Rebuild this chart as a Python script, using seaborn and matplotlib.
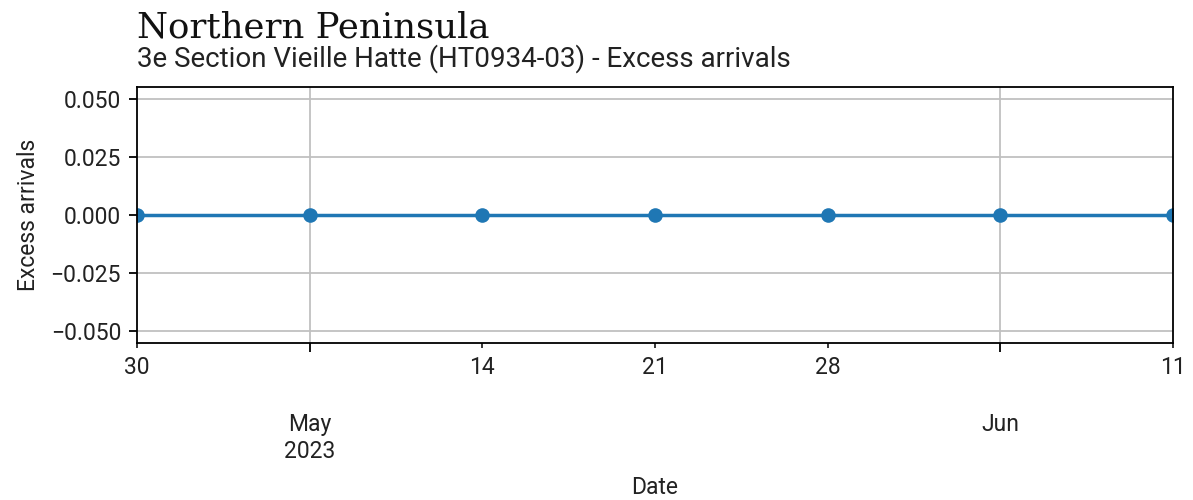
import pandas as pd
import matplotlib
matplotlib.use("Agg")
import matplotlib.pyplot as plt
import matplotlib.dates as mdates
import seaborn as sns

# weekly data (W-SUN)
dates = ["2023-04-30", "2023-05-07", "2023-05-14", "2023-05-21",
         "2023-05-28", "2023-06-04", "2023-06-11"]
excess_arrivals = [0, 0, 0, 0, 0, 0, 0]

major_dates = ["2023-05-07", "2023-06-04"]
major_labels = ["\n\nMay\n2023", "\n\nJun"]
minor_dates = ["2023-04-30", "2023-05-14", "2023-05-21", "2023-05-28", "2023-06-11"]
minor_labels = ["30", "14", "21", "28", "11"]

df = pd.DataFrame({"Date": pd.to_datetime(dates), "Excess arrivals": excess_arrivals})

sns.set_style("white")
plt.rcParams["font.family"] = ["Roboto", "DejaVu Sans"]

fig, ax = plt.subplots(figsize=(11.93, 5), dpi=100)
fig.subplots_adjust(left=0.115, right=0.983, top=0.826, bottom=0.314)

sns.lineplot(data=df, x="Date", y="Excess arrivals", ax=ax, color="#1f77b4",
             marker="o", markersize=10.5, markeredgewidth=0, linewidth=2.5)

ax.set_xlim(df["Date"].min(), df["Date"].max())
ax.set_ylim(-0.055, 0.055)
ax.set_yticks([-0.05, -0.025, 0, 0.025, 0.05])
ax.set_yticklabels(["\u22120.050", "\u22120.025", "0.000", "0.025", "0.050"])

ax.set_xticks(mdates.date2num(pd.to_datetime(major_dates)))
ax.set_xticklabels(major_labels)
ax.set_xticks(mdates.date2num(pd.to_datetime(minor_dates)), minor=True)
ax.set_xticklabels(minor_labels, minor=True)

ax.tick_params(axis="both", which="both", labelsize=16.5, color="black",
               labelcolor="#222222", direction="out", pad=5.8)
ax.tick_params(axis="x", which="major", length=6.5, width=1.3, bottom=True)
ax.tick_params(axis="x", which="minor", length=3.3, width=1.1, bottom=True)
ax.tick_params(axis="y", length=5.8, width=1.3, left=True)

ax.grid(True, which="major", color="#c0c0c0", linewidth=1.3)
ax.set_axisbelow(True)
for s in ax.spines.values():
    s.set_color("black")
    s.set_linewidth(1.3)

ax.set_xlabel("Date", fontsize=16.5, color="#222222")
ax.set_ylabel("Excess arrivals", fontsize=16.5, color="#222222")
ax.xaxis.set_label_coords(0.5, -0.52)
ax.yaxis.set_label_coords(-0.094, 0.5)

fig.text(0.115, 0.926, "Northern Peninsula", fontsize=25.6,
         family=["DejaVu Serif"], ha="left", va="baseline", color="#111111")
fig.text(0.115, 0.866, "3e Section Vieille Hatte (HT0934-03) - Excess arrivals",
         fontsize=20, ha="left", va="baseline", color="#222222")

fig.savefig("out.png", dpi=100)
